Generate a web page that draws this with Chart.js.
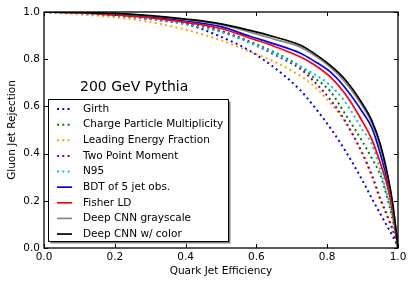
<!DOCTYPE html>
<html>
<head>
<meta charset="utf-8">
<script src="https://cdn.jsdelivr.net/npm/chart.js@4.4.1/dist/chart.umd.min.js"></script>
<style>
  html, body { margin: 0; padding: 0; background: #fff; }
  #wrap { position: relative; width: 415px; height: 287px; }
</style>
</head>
<body>
<div id="wrap"><canvas id="roc"></canvas></div>
<script>
// quark jet efficiency (x) shared by every curve
const quarkEff   = [0, 0.1, 0.2, 0.3, 0.4, 0.5, 0.582, 0.65, 0.723, 0.76, 0.808, 0.85, 0.9, 0.926, 0.95, 0.972, 0.985, 0.995, 1];

// gluon jet rejection
const girth      = [1, 0.997, 0.99, 0.975, 0.95, 0.895, 0.835, 0.765, 0.67, 0.605, 0.51, 0.415, 0.285, 0.21, 0.145, 0.085, 0.05, 0.02, 0];
const chargeMult = [1, 0.995, 0.985, 0.97, 0.95, 0.92, 0.874, 0.83, 0.77, 0.725, 0.665, 0.57, 0.45, 0.38, 0.31, 0.20, 0.12, 0.045, 0];
const leadEnergy = [1, 0.99, 0.978, 0.957, 0.925, 0.88, 0.832, 0.79, 0.73, 0.69, 0.615, 0.535, 0.395, 0.30, 0.20, 0.12, 0.07, 0.03, 0];
const twoPoint   = [1, 0.995, 0.985, 0.97, 0.95, 0.918, 0.87, 0.82, 0.76, 0.71, 0.63, 0.54, 0.40, 0.31, 0.21, 0.13, 0.08, 0.03, 0];
const n95        = [1, 0.995, 0.985, 0.97, 0.948, 0.915, 0.87, 0.825, 0.77, 0.74, 0.69, 0.62, 0.50, 0.44, 0.33, 0.21, 0.13, 0.05, 0];
const bdt        = [1, 0.997, 0.99, 0.978, 0.962, 0.938, 0.897, 0.865, 0.826, 0.795, 0.747, 0.68, 0.575, 0.51, 0.40, 0.27, 0.16, 0.06, 0];
const fisher     = [1, 0.996, 0.987, 0.975, 0.956, 0.93, 0.889, 0.855, 0.81, 0.78, 0.726, 0.655, 0.535, 0.46, 0.36, 0.25, 0.15, 0.055, 0];
const cnnGray    = [1, 0.998, 0.993, 0.983, 0.968, 0.946, 0.915, 0.885, 0.852, 0.82, 0.768, 0.705, 0.60, 0.53, 0.43, 0.29, 0.18, 0.065, 0];
const cnnColor   = [1, 0.998, 0.994, 0.985, 0.97, 0.95, 0.922, 0.895, 0.86, 0.828, 0.775, 0.715, 0.61, 0.54, 0.44, 0.30, 0.19, 0.07, 0];

const tickValues = [0, 0.2, 0.4, 0.6, 0.8, 1.0];

const small = { family: 'DejaVu Sans', size: 10.5 };

function curve(label, ys, color, dotted, order) {
  return {
    label: label,
    data: ys.map((y, i) => ({ x: quarkEff[i], y: y })),
    borderColor: color,
    borderWidth: dotted ? 2 : 1.7,
    borderDash: dotted ? [2, 3.3] : [],
    borderCapStyle: 'butt',
    pointRadius: 0,
    fill: false,
    cubicInterpolationMode: 'monotone',
    order: order
  };
}

const datasets = [
  curve('Girth', girth, '#0000ff', true, 8),
  curve('Charge Particle Multiplicity', chargeMult, '#008000', true, 7),
  curve('Leading Energy Fraction', leadEnergy, '#ffa500', true, 6),
  curve('Two Point Moment', twoPoint, '#800080', true, 5),
  curve('N95', n95, '#00bfff', true, 4),
  curve('BDT of 5 jet obs.', bdt, '#0000ff', false, 3),
  curve('Fisher LD', fisher, '#ff0000', false, 2),
  curve('Deep CNN grayscale', cnnGray, '#888888', false, 1),
  curve('Deep CNN w/ color', cnnColor, '#000000', false, 0)
];

// frame with inward ticks on all four sides, like the matplotlib classic style
const frameTicks = {
  id: 'frameTicks',
  afterDatasetsDraw(chart) {
    const {ctx, chartArea: a, scales: {x, y}} = chart;
    ctx.save();
    ctx.strokeStyle = '#000';
    ctx.lineWidth = 1;
    tickValues.forEach(v => {
      const px = Math.round(x.getPixelForValue(v)) + 0.5;
      const py = Math.round(y.getPixelForValue(v)) + 0.5;
      ctx.beginPath();
      ctx.moveTo(px, a.bottom); ctx.lineTo(px, a.bottom - 4);
      ctx.moveTo(px, a.top); ctx.lineTo(px, a.top + 4);
      ctx.moveTo(a.left, py); ctx.lineTo(a.left + 4, py);
      ctx.moveTo(a.right, py); ctx.lineTo(a.right - 4, py);
      ctx.stroke();
    });
    ctx.lineWidth = 1.3;
    ctx.strokeRect(a.left, a.top, a.right - a.left, a.bottom - a.top);
    ctx.restore();
  }
};

// boxed legend inside the axes plus the sample label
const boxLegend = {
  id: 'boxLegend',
  afterDraw(chart) {
    const ctx = chart.ctx;
    const bx = 48.5, by = 99.5, bw = 180, bh = 142;
    ctx.save();
    ctx.fillStyle = '#808080';
    ctx.fillRect(bx + 2, by + 2, bw, bh);
    ctx.fillStyle = '#fff';
    ctx.fillRect(bx, by, bw, bh);
    ctx.strokeStyle = '#000';
    ctx.lineWidth = 1;
    ctx.strokeRect(bx, by, bw, bh);

    ctx.font = '10.5px "DejaVu Sans"';
    ctx.textBaseline = 'middle';
    ctx.textAlign = 'left';
    chart.data.datasets.forEach((ds, i) => {
      const ly = 109 + i * 15.63;
      ctx.beginPath();
      ctx.strokeStyle = ds.borderColor;
      ctx.lineWidth = ds.borderWidth;
      ctx.setLineDash(ds.borderDash);
      ctx.moveTo(57, ly);
      ctx.lineTo(72, ly);
      ctx.stroke();
      ctx.setLineDash([]);
      ctx.fillStyle = '#000';
      ctx.fillText(ds.label, 83, ly);
    });

    ctx.font = '14px "DejaVu Sans"';
    ctx.textBaseline = 'alphabetic';
    ctx.fillText('200 GeV Pythia', 80, 91);
    ctx.restore();
  }
};

new Chart(document.getElementById('roc').getContext('2d'), {
  type: 'line',
  data: { datasets: datasets },
  options: {
    responsive: true,
    maintainAspectRatio: false,
    animation: false,
    layout: { padding: { left: 0, right: 17, top: 12, bottom: 0 } },
    plugins: { legend: { display: false }, tooltip: { enabled: false } },
    scales: {
      x: {
        type: 'linear', min: 0, max: 1,
        afterFit: s => { s.height = 39; },
        afterBuildTicks: s => { s.ticks = tickValues.map(v => ({ value: v })); },
        ticks: { callback: v => v.toFixed(1), padding: 3, color: '#000', font: small, maxRotation: 0 },
        grid: { display: false, drawTicks: false },
        border: { display: false },
        title: { display: true, text: 'Quark Jet Efficiency', color: '#000', font: small, padding: { top: 0, bottom: 9 } }
      },
      y: {
        type: 'linear', min: 0, max: 1,
        afterFit: s => { s.width = 44; },
        afterBuildTicks: s => { s.ticks = tickValues.map(v => ({ value: v })); },
        ticks: { callback: v => v.toFixed(1), padding: 4, color: '#000', font: small },
        grid: { display: false, drawTicks: false },
        border: { display: false },
        title: { display: true, text: 'Gluon Jet Rejection', color: '#000', font: small, padding: { top: 6, bottom: 0 } }
      }
    }
  },
  plugins: [frameTicks, boxLegend]
});
</script>
</body>
</html>
